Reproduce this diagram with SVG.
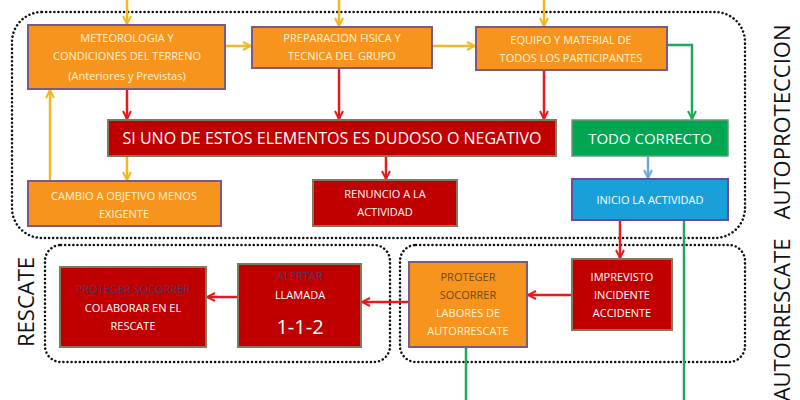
<svg xmlns="http://www.w3.org/2000/svg" width="800" height="400" viewBox="0 0 800 400">
<defs>
<style>
text{font-family:"Open Sans","DejaVu Sans",sans-serif;text-anchor:middle}
.o{fill:#f7941d;stroke:#7a5a8a;stroke-width:2}
.r{fill:#c00000;stroke:#7f7a5f;stroke-width:2}
.g{fill:#00a651;stroke:#6a9a7a;stroke-width:1.5}
.b{fill:#1aa0d8;stroke:#6a4a9a;stroke-width:2}
.t{fill:#fff3d6;font-size:11px}
.w{fill:#fff;font-size:11px}
.dot{fill:none;stroke:#111;stroke-width:2.5;stroke-dasharray:0.1 4;stroke-linecap:round}
.side{font-size:22px;fill:#111}
.ay{stroke:#f2b81e;stroke-width:2.5;fill:none;marker-end:url(#my)}
.ar{stroke:#e8191f;stroke-width:2.5;fill:none;marker-end:url(#mr)}
.ag{stroke:#1bab55;stroke-width:2.5;fill:none}
</style>
<marker id="my" viewBox="0 0 10 10" refX="9" refY="5" markerWidth="4" markerHeight="4" orient="auto"><path d="M1,1 L9,5 L1,9" fill="none" stroke="#f2b81e" stroke-width="2"/></marker>
<marker id="mr" viewBox="0 0 10 10" refX="9" refY="5" markerWidth="4" markerHeight="4" orient="auto"><path d="M1,1 L9,5 L1,9" fill="none" stroke="#e8191f" stroke-width="2"/></marker>
<marker id="mg" viewBox="0 0 10 10" refX="9" refY="5" markerWidth="4" markerHeight="4" orient="auto"><path d="M1,1 L9,5 L1,9" fill="none" stroke="#1bab55" stroke-width="2"/></marker>
<marker id="mb" viewBox="0 0 10 10" refX="9" refY="5" markerWidth="4" markerHeight="4" orient="auto"><path d="M1,1 L9,5 L1,9" fill="none" stroke="#6aaad8" stroke-width="2"/></marker>
</defs>
<rect width="800" height="400" fill="#fff"/>
<g id="groups">
<rect class="dot" x="12" y="12" width="733" height="226" rx="30"/>
<rect class="dot" x="45" y="245" width="345" height="117" rx="16"/>
<rect class="dot" x="400" y="245" width="345" height="117" rx="16"/>
<text class="side" transform="translate(790,122) rotate(-90)">AUTOPROTECCION</text>
<text class="side" transform="translate(790,320) rotate(-90)">AUTORRESCATE</text>
<text class="side" transform="translate(34,302) rotate(-90)">RESCATE</text>
</g>
<g id="connectors">
<path class="ay" d="M127,0 V24"/>
<path class="ay" d="M339,0 V26"/>
<path class="ay" d="M544,0 V26"/>
<path class="ay" d="M225,46 H251"/>
<path class="ay" d="M432,46 H475"/>
<path class="ay" d="M50,181 V90"/>
<path class="ar" d="M127,89 V119"/>
<path class="ar" d="M339,68 V119"/>
<path class="ar" d="M544,70 V119"/>
<path class="ay" d="M127,156 V180"/>
<path class="ar" d="M386,156 V179"/>
<path class="ag" d="M667,45 H692 V119" marker-end="url(#mg)"/>
<path d="M648,156 V178" stroke="#6aaad8" stroke-width="2.5" fill="none" marker-end="url(#mb)"/>
<path class="ar" d="M620,220 V258"/>
<path class="ar" d="M572,295 H528"/>
<path class="ar" d="M409,302 H362"/>
<path class="ar" d="M238,297 H207"/>
<path class="ag" d="M466,347 V400"/>
<path class="ag" d="M684,220 V400"/>
</g>
<g id="meteo"><rect class="o" x="28" y="25" width="197" height="64"/>
<text class="t" x="127" y="42">METEOROLOGIA Y</text><text class="t" x="127" y="60">CONDICIONES DEL TERRENO</text><text class="t" x="127" y="80">(Anteriores y Previstas)</text></g>
<g id="prep"><rect class="o" x="252" y="27" width="180" height="41"/>
<text class="t" x="342" y="42">PREPARACION FISICA Y</text><text class="t" x="342" y="60">TECNICA DEL GRUPO</text></g>
<g id="equipo"><rect class="o" x="476" y="27" width="191" height="43"/>
<text class="t" x="571" y="44">EQUIPO Y MATERIAL DE</text><text class="t" x="571" y="62">TODOS LOS PARTICIPANTES</text></g>
<g id="siuno"><rect class="r" x="108" y="120" width="448" height="36"/>
<text class="w" x="332" y="144" style="font-size:16px">SI UNO DE ESTOS ELEMENTOS ES DUDOSO O NEGATIVO</text></g>
<g id="correcto"><rect class="g" x="572" y="120" width="156" height="36"/>
<text class="w" x="650" y="144" style="font-size:15px">TODO CORRECTO</text></g>
<g id="cambio"><rect class="o" x="28" y="181" width="193" height="45"/>
<text class="t" x="124" y="200">CAMBIO A OBJETIVO MENOS</text><text class="t" x="124" y="218">EXIGENTE</text></g>
<g id="renuncio"><rect class="r" x="313" y="180" width="144" height="46"/>
<text class="w" x="385" y="198">RENUNCIO A LA</text><text class="w" x="385" y="216">ACTIVIDAD</text></g>
<g id="inicio"><rect class="b" x="572" y="179" width="156" height="41"/>
<text class="w" x="650" y="204">INICIO LA ACTIVIDAD</text></g>
<g id="imprevisto"><rect class="r" x="572" y="259" width="100" height="71"/>
<text class="w" x="622" y="281">IMPREVISTO</text><text class="w" x="622" y="299">INCIDENTE</text><text class="w" x="622" y="317">ACCIDENTE</text></g>
<g id="proteger"><rect class="o" x="409" y="262" width="118" height="85"/>
<text class="t" x="468" y="281" style="fill:#6b4a1a">PROTEGER</text><text class="t" x="468" y="299" style="fill:#6b4a1a">SOCORRER</text><text class="t" x="468" y="317">LABORES DE</text><text class="t" x="468" y="335">AUTORRESCATE</text></g>
<g id="alertar"><rect class="r" x="238" y="264" width="123" height="83"/>
<text class="w" x="300" y="280" style="fill:#4a3a6a">ALERTAR</text><text class="w" x="300" y="299">LLAMADA</text><text class="w" x="300" y="334" style="font-size:20px">1-1-2</text></g>
<g id="colaborar"><rect class="r" x="60" y="267" width="146" height="80"/>
<text class="w" x="133" y="293" style="fill:#4a3a6a">PROTEGER SOCORRER</text><text class="w" x="133" y="312">COLABORAR EN EL</text><text class="w" x="133" y="330">RESCATE</text></g>
</svg>
